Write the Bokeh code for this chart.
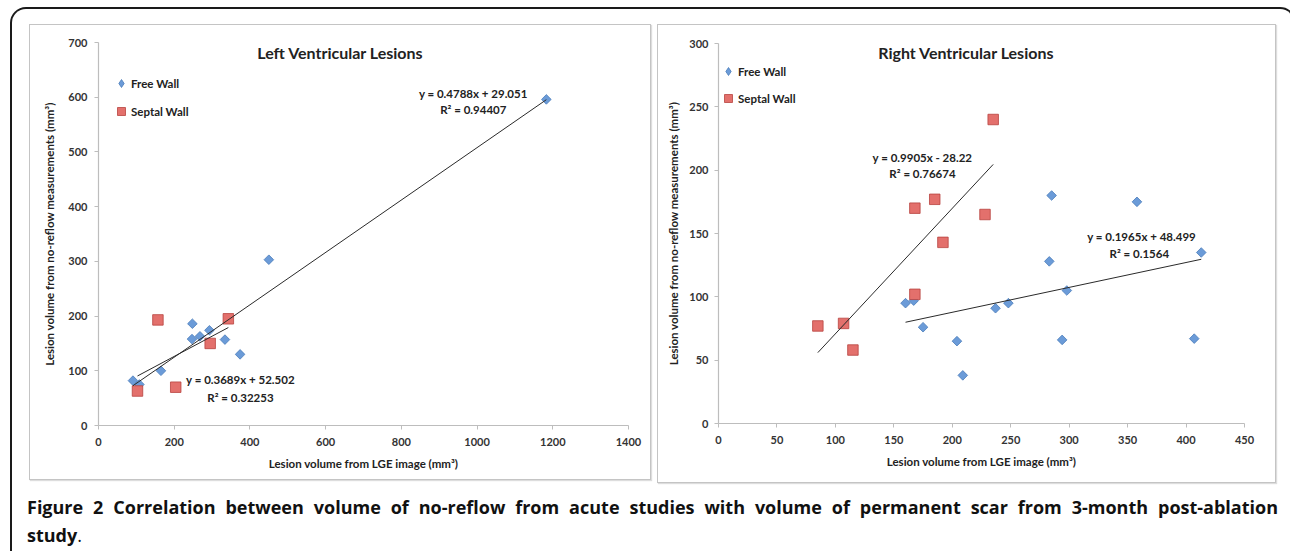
import numpy as np
from bokeh.plotting import figure
from bokeh.models import (Range1d, Label, Legend, LegendItem, Div, Column, Row,
                          FixedTicker)
from bokeh.embed import file_html
from bokeh.resources import INLINE

# ---------------- data ----------------
# Left ventricular lesions
lv_free_x = [1183, 450, 248, 247, 268, 293, 334, 374, 165, 91, 108]
lv_free_y = [596, 303, 186, 158, 163, 174, 157, 130, 100, 82, 75]
lv_sept_x = [157, 343, 295, 103, 204]
lv_sept_y = [193, 195, 150, 63, 70]
lv_free_fit = [0.4788, 29.051]
lv_sept_fit = [0.3689, 52.502]
lv_free_eq = ["y = 0.4788x + 29.051", "R\u00b2 = 0.94407"]
lv_sept_eq = ["y = 0.3689x + 52.502", "R\u00b2 = 0.32253"]
lv_xticks = [0, 200, 400, 600, 800, 1000, 1200, 1400]
lv_yticks = [0, 100, 200, 300, 400, 500, 600, 700]

# Right ventricular lesions
rv_free_x = [285, 358, 413, 283, 298, 248, 237, 160, 167, 175, 204, 209, 294, 407]
rv_free_y = [180, 175, 135, 128, 105, 95, 91, 95, 97, 76, 65, 38, 66, 67]
rv_sept_x = [235, 185, 168, 228, 192, 168, 85, 107, 115]
rv_sept_y = [240, 177, 170, 165, 143, 102, 77, 79, 58]
rv_free_fit = [0.1965, 48.499]
rv_sept_fit = [0.9905, -28.22]
rv_free_eq = ["y = 0.1965x + 48.499", "R\u00b2 = 0.1564"]
rv_sept_eq = ["y = 0.9905x - 28.22", "R\u00b2 = 0.76674"]
rv_xticks = [0, 50, 100, 150, 200, 250, 300, 350, 400, 450]
rv_yticks = [0, 50, 100, 150, 200, 250, 300]

series_names = ["Free Wall", "Septal Wall"]
x_title = "Lesion volume from LGE image (mm\u00b3)"
y_title = "Lesion volume from no-reflow measurements (mm\u00b3)"
caption_bold = ("Figure 2 Correlation between volume of no-reflow from acute studies "
                "with volume of permanent scar from 3-month post-ablation")
caption_tail = "study"

FONT = "Lato"
DIA_FILL, DIA_LINE = "#6b9bd8", "#4a7cba"
SQ_FILL, SQ_LINE = "#e3706c", "#b8423f"


def make_panel(title, fx, fy, sx, sy, ffit, sfit, feq, seq, xticks, yticks,
               width, height, mb, title_pos, feq_pos, seq_pos, legend_loc,
               legend_spacing, y_label_standoff, y_axis_standoff):
    p = figure(width=width, height=height, output_backend="svg",
               toolbar_location=None,
               x_range=Range1d(xticks[0], xticks[-1]),
               y_range=Range1d(yticks[0], yticks[-1]),
               min_border_left=mb[0], min_border_right=mb[1],
               min_border_top=mb[2], min_border_bottom=mb[3])
    p.xgrid.visible = False
    p.ygrid.visible = False
    p.outline_line_color = None
    p.background_fill_color = "white"
    p.border_fill_color = "white"
    p.xaxis.ticker = FixedTicker(ticks=xticks)
    p.yaxis.ticker = FixedTicker(ticks=yticks)
    p.xaxis.axis_label = x_title
    p.yaxis.axis_label = y_title
    for ax in (p.xaxis[0], p.yaxis[0]):
        ax.axis_line_color = "#bdbdbd"
        ax.axis_line_width = 1.2
        ax.major_tick_line_color = "#bdbdbd"
        ax.major_tick_out = 4
        ax.major_tick_in = 0
        ax.minor_tick_line_color = None
        ax.major_label_text_font = FONT
        ax.major_label_text_font_style = "bold"
        ax.major_label_text_font_size = "11px"
        ax.major_label_text_color = "#333333"
        ax.axis_label_text_font = FONT
        ax.axis_label_text_font_style = "bold"
        ax.axis_label_text_font_size = "11.5px"
        ax.axis_label_text_color = "#222222"
    p.xaxis.major_label_standoff = 8
    p.xaxis.axis_label_standoff = 8
    p.yaxis.major_label_standoff = y_label_standoff
    p.yaxis.axis_label_standoff = y_axis_standoff

    p.scatter(fx, fy, marker="square", size=6.8, angle=np.pi / 4,
              fill_color=DIA_FILL, line_color=DIA_LINE, line_width=0.8)
    r_sept = p.scatter(sx, sy, marker="square", size=10.5,
                       fill_color=SQ_FILL, line_color=SQ_LINE, line_width=0.8)
    # legend-only glyph (a single NaN point, never drawn) so the legend shows a diamond
    r_free_leg = p.scatter([np.nan], [np.nan], marker="diamond", size=10,
                           fill_color=DIA_FILL, line_color=DIA_LINE, line_width=0.8)

    for xs, fit in ((fx, ffit), (sx, sfit)):
        lx = np.array([min(xs), max(xs)], dtype=float)
        p.line(lx, fit[0] * lx + fit[1], line_color="#2a2a2a", line_width=1)

    p.add_layout(Label(x=title_pos[0], y=title_pos[1], text=title,
                       text_font=FONT, text_font_style="bold",
                       text_font_size="16px", text_color="#222222",
                       text_align="center", text_baseline="middle"))
    for eq, pos in ((feq, feq_pos), (seq, seq_pos)):
        for i, line in enumerate(eq):
            p.add_layout(Label(x=pos[i][0], y=pos[i][1], text=line,
                               text_font=FONT, text_font_style="bold",
                               text_font_size="11.5px", text_color="#222222",
                               text_align="center", text_baseline="middle"))

    legend = Legend(items=[LegendItem(label=series_names[0], renderers=[r_free_leg], index=0),
                           LegendItem(label=series_names[1], renderers=[r_sept], index=0)],
                    location=legend_loc, orientation="vertical",
                    margin=0, padding=0, spacing=legend_spacing,
                    glyph_width=20, glyph_height=20, label_height=20,
                    label_standoff=-2, border_line_color=None,
                    background_fill_alpha=0,
                    label_text_font=FONT, label_text_font_style="bold",
                    label_text_font_size="11.5px", label_text_color="#222222")
    p.add_layout(legend)
    return p


p_left = make_panel("Left Ventricular Lesions", lv_free_x, lv_free_y, lv_sept_x, lv_sept_y,
                    lv_free_fit, lv_sept_fit, lv_free_eq, lv_sept_eq, lv_xticks, lv_yticks,
                    width=620, height=454, mb=(68, 22, 17, 54),
                    title_pos=(639, 682),
                    feq_pos=[(990, 607), (990, 578)],
                    seq_pos=[(375, 84), (375, 51)],
                    legend_loc=(13, 304), legend_spacing=8,
                    y_label_standoff=7, y_axis_standoff=9)

p_right = make_panel("Right Ventricular Lesions", rv_free_x, rv_free_y, rv_sept_x, rv_sept_y,
                     rv_free_fit, rv_sept_fit, rv_free_eq, rv_sept_eq, rv_xticks, rv_yticks,
                     width=617, height=457, mb=(60, 31, 18, 59),
                     title_pos=(212, 293),
                     feq_pos=[(362, 147.6), (360, 134)],
                     seq_pos=[(174.5, 210), (174.5, 197.4)],
                     legend_loc=(0, 315), legend_spacing=7,
                     y_label_standoff=6, y_axis_standoff=6)

panel_style = {"border": "1px solid #c4c4c4", "box-shadow": "1px 1px 1px #dddddd"}
wrap_left = Column(children=[p_left], styles=panel_style)
wrap_right = Column(children=[p_right], styles=panel_style)
panels = Row(children=[wrap_left, wrap_right], spacing=6)

caption_html = (
    '<div style="width:1251px; text-align:justify; text-align-last:justify; '
    "font-family:'Open Sans', sans-serif; font-size:18px; line-height:28px; "
    'color:#111111;">'
    f"<b>{caption_bold}</b><br><b>{caption_tail}</b>."
    "</div>"
)
caption = Div(text=caption_html, width=1251, height=58,
              styles={"margin-left": "-2px"})

outer = Column(children=[panels, caption], spacing=5,
               styles={"border": "2px solid #1a1a1a", "border-bottom": "none",
                       "border-radius": "16px 16px 0 0",
                       "padding": "15px 11px 0px 17px",
                       "margin": "7px 0px 0px 10px",
                       "background": "white"})

open("out.html", "w").write(file_html(outer, INLINE))
